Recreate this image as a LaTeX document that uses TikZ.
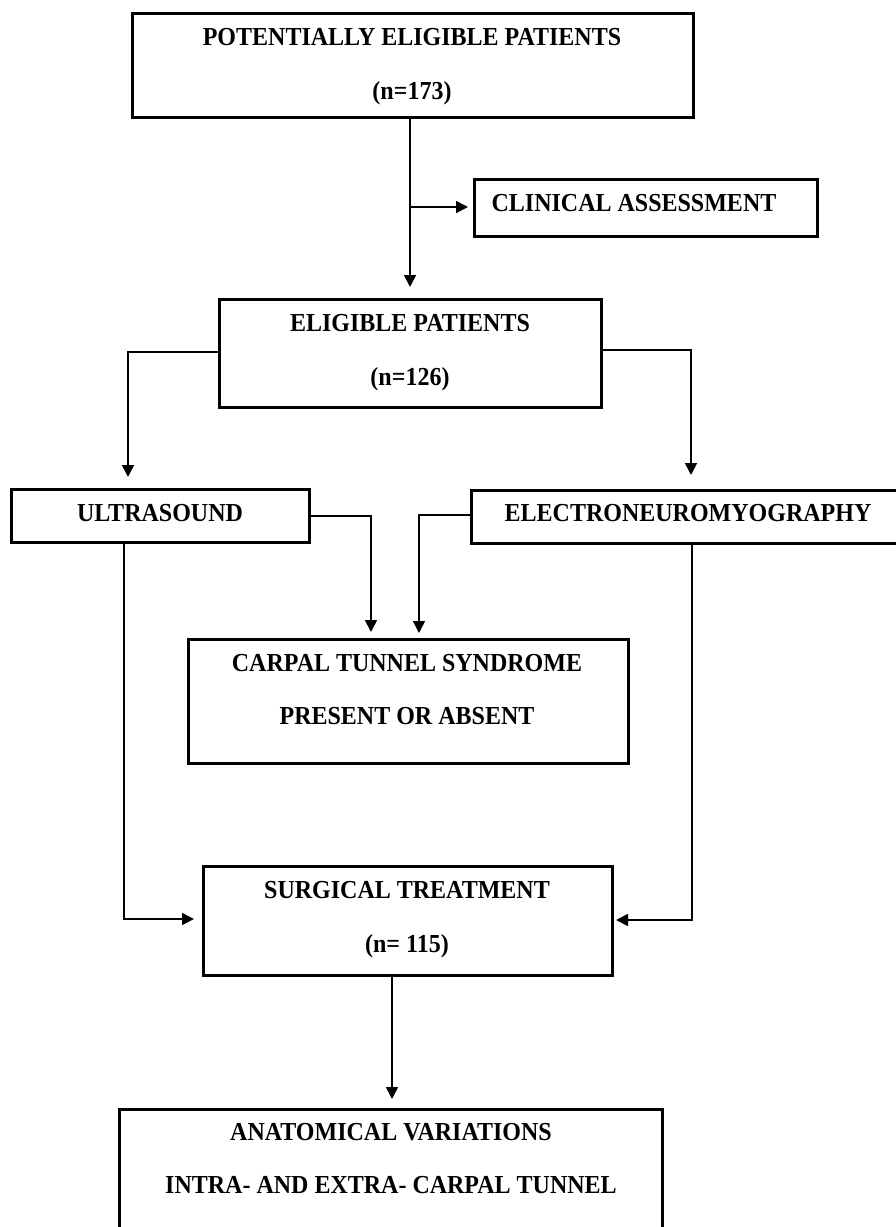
\documentclass[tikz,border=0pt]{standalone}
\usepackage{fontspec}
\setmainfont{Liberation Serif}
\usetikzlibrary{arrows.meta}
\newcommand{\stretchtxt}[1]{\scalebox{1}[1.08]{#1}}
\tikzset{
  box/.style={draw=black, line width=3pt, rectangle, inner sep=0pt, outer sep=0pt, fill=none},
  txt/.style={anchor=base, inner sep=0pt, font=\fontsize{24}{28}\selectfont\bfseries},
  arr/.style={draw=black, line width=1.7pt, -{Triangle[length=12pt,width=12pt]}},
}
\begin{document}
\begin{tikzpicture}[x=1pt,y=-1pt]
\useasboundingbox (0,0) rectangle (895,1227);
\fill[white] (0,0) rectangle (895,1227);

% boxes
\node[box, minimum width=561pt, minimum height=104pt] (b1) at (412.5,65) {};
\node[box, minimum width=343pt, minimum height=57pt] (ca) at (645.5,207.5) {};
\node[box, minimum width=382pt, minimum height=108pt] (b3) at (410,353) {};
\node[box, minimum width=298pt, minimum height=53pt] (us) at (160,515.5) {};
\node[box, minimum width=434pt, minimum height=53pt] (en) at (688,516.5) {};
\node[box, minimum width=440pt, minimum height=124pt] (ct) at (408,701) {};
\node[box, minimum width=409pt, minimum height=109pt] (st) at (407.5,920.5) {};
\node[box, minimum width=543pt, minimum height=150pt] (an) at (390.5,1184) {};

% texts (base = cap centre + half cap height)
\node[txt] (t1a) at (412,45.5) {\stretchtxt{POTENTIALLY ELIGIBLE PATIENTS}};
\node[txt] (t1b) at (412,99.5) {\stretchtxt{(n=173)}};
\node[txt] (tca) at (634,211.5) {\stretchtxt{CLINICAL ASSESSMENT}};
\node[txt] (t3a) at (410,331.5) {\stretchtxt{ELIGIBLE PATIENTS}};
\node[txt] (t3b) at (410,385.5) {\stretchtxt{(n=126)}};
\node[txt] (tus) at (160,521.5) {\stretchtxt{ULTRASOUND}};
\node[txt] (ten) at (688,521.5) {\stretchtxt{ELECTRONEUROMYOGRAPHY}};
\node[txt] (tcta) at (407,671.5) {\stretchtxt{CARPAL TUNNEL SYNDROME}};
\node[txt] (tctb) at (407,724.5) {\stretchtxt{PRESENT OR ABSENT}};
\node[txt] (tsta) at (407,898.5) {\stretchtxt{SURGICAL TREATMENT}};
\node[txt] (tstb) at (407,952.5) {\stretchtxt{(n= 115)}};
\node[txt] (tana) at (391,1140.5) {\stretchtxt{ANATOMICAL VARIATIONS}};
\node[txt] (tanb) at (391,1193.5) {\stretchtxt{INTRA- AND EXTRA- CARPAL TUNNEL}};

% connector bend points
\coordinate (j1) at (410,207);
\coordinate (c2) at (128,352);
\coordinate (c3) at (691,350);
\coordinate (c4) at (371,516);
\coordinate (c5) at (419,515);
\coordinate (c6) at (124,919);
\coordinate (c7) at (692,920);
\coordinate (c8) at (392,1040);

% connectors
\draw[arr, shorten >=12pt] (b1.south -| j1) -- (b3.north -| j1);
\draw[arr, shorten >=6pt] (j1) -- (ca.west |- j1);
\draw[arr, shorten >=12pt] (b3.west |- c2) -- (c2) -- (c2 |- us.north);
\draw[arr, shorten >=15pt] (b3.east |- c3) -- (c3) -- (c3 |- en.north);
\draw[arr, shorten >=7pt] (us.east |- c4) -- (c4) -- (c4 |- ct.north);
\draw[arr, shorten >=6pt] (en.west |- c5) -- (c5) -- (c5 |- ct.north);
\draw[arr, shorten >=9pt] (us.south -| c6) -- (c6) -- (st.west |- c6);
\draw[arr, shorten >=4pt] (en.south -| c7) -- (c7) -- (st.east |- c7);
\draw[arr, shorten >=10pt] (st.south -| c8) -- (an.north -| c8);
\end{tikzpicture}
\end{document}
